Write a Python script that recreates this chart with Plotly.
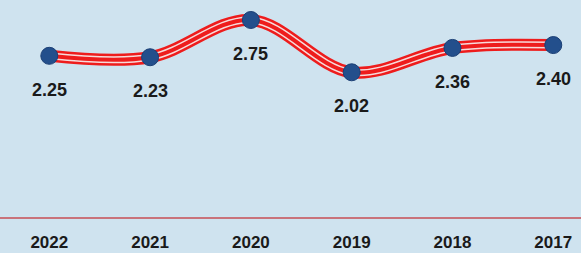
import plotly.graph_objects as go

years = ["2022", "2021", "2020", "2019", "2018", "2017"]
values = [2.25, 2.23, 2.75, 2.02, 2.36, 2.40]
value_labels = ["2.25", "2.23", "2.75", "2.02", "2.36", "2.40"]

BG = "#cfe3ef"
FONT = "Liberation Sans, Arial, sans-serif"

idx = list(range(len(years)))

fig = go.Figure()
# tube: red outer, white stripes, red core
for w, c in [(12, "#ee1c1c"), (7, "#f7dada"), (4, "#ee1c1c")]:
    fig.add_trace(go.Scatter(
        x=idx, y=values, mode="lines",
        line=dict(color=c, width=w, shape="spline", smoothing=1.0),
        hoverinfo="skip", showlegend=False,
    ))
fig.add_trace(go.Scatter(
    x=idx, y=values, mode="markers",
    marker=dict(size=17, color="#234f8c", line=dict(color="#1b3f75", width=1)),
    showlegend=False,
))

for i, v, t in zip(idx, values, value_labels):
    fig.add_annotation(x=i, y=v, xref="x", yref="y", text=f"<b>{t}</b>", showarrow=False,
                       yshift=-34, font=dict(family=FONT, size=18, color="#1a1a1a"))

fig.update_layout(
    width=581, height=253,
    margin=dict(l=0, r=0, t=0, b=36, autoexpand=False),
    paper_bgcolor=BG, plot_bgcolor=BG,
    xaxis=dict(range=[-0.489, 5.275], showgrid=False, zeroline=False, automargin=False,
               showline=True, linecolor="#c9737b", linewidth=2,
               tickfont=dict(family=FONT, size=17, color="#1a1a1a"),
               tickvals=idx, ticktext=[f"<b>{y}</b>" for y in years],
               ticks="", ticklabelstandoff=9),
    yaxis=dict(range=[0, 3.029], showgrid=False, zeroline=False, showticklabels=False,
               showline=False, automargin=False),
)

fig.write_html("out.html", config={"displayModeBar": False, "staticPlot": True},
               post_script="document.body.style.margin='0';document.body.style.overflow='hidden';")
